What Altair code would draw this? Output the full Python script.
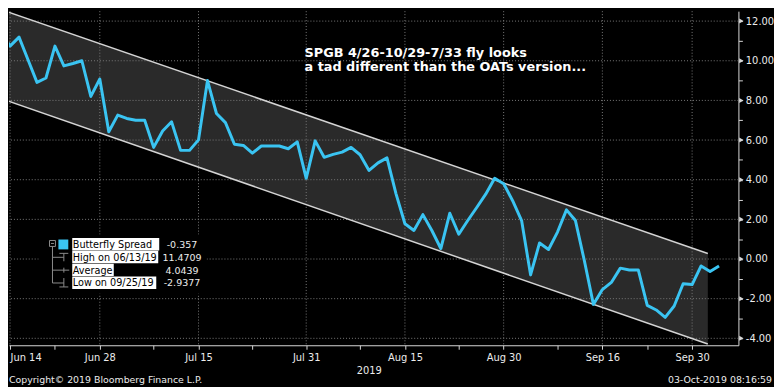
import altair as alt
import pandas as pd

# ---------------- data ----------------
dates = pd.bdate_range("2019-06-13", "2019-10-03")   # weekday trading days shown
spread = [11.47, 10.74, 11.19, 10.05, 8.91, 9.13, 10.74, 9.74, 9.86, 10.00,
          8.20, 9.08, 6.42, 7.26, 7.09, 7.00, 7.00, 5.63, 6.46, 6.92,
          5.48, 5.48, 6.01, 9.00, 7.34, 6.88, 5.79, 5.73, 5.34, 5.70,
          5.70, 5.70, 5.56, 5.91, 4.07, 5.96, 5.13, 5.28, 5.39, 5.63,
          5.26, 4.47, 4.85, 5.10, 3.30, 1.78, 1.44, 2.24, 1.44, 0.53,
          2.31, 1.25, 1.94, 2.60, 3.27, 4.07, 3.80, 2.94, 1.94, -0.80,
          0.81, 0.48, 1.36, 2.48, 1.94, -0.10, -2.29, -1.54, -1.18, -0.46,
          -0.55, -0.55, -2.34, -2.57, -2.94, -2.37, -1.25, -1.29, -0.35, -0.63,
          -0.357]

major_idx = [1, 11, 22, 34, 45, 56, 67, 77]
major_lab = ["Jun 14", "Jun 28", "Jul 15", "Jul 31", "Aug 15", "Aug 30", "Sep 16", "Sep 30"]
minor_idx = [6, 17, 28, 40, 51, 62, 72]
y_major = [-4, -2, 0, 2, 4, 6, 8, 10, 12]
y_all = list(range(-4, 13))

channel_x = [0, 78.75]
channel_upper = [12.58, 0.28]
channel_lower = [8.09, -4.29]

legend_labels = ["Butterfly Spread", "High on 06/13/19", "Average", "Low on 09/25/19"]
legend_values = ["-0.357", "11.4709", "4.0439", "-2.9377"]

title_lines = ["SPGB 4/26-10/29-7/33 fly looks", "a tad different than the OATs version..."]

# ---------------- styling ----------------
CYAN = "#3ac4f2"
GRID = "#7a7a7a"
AX = "#d8d8d8"
TXT = "#ececec"
FONT = "DejaVu Sans"

df = pd.DataFrame({"i": range(len(spread)), "date": dates.strftime("%Y-%m-%d"), "v": spread})
chan = pd.DataFrame({"i": channel_x, "v": channel_upper, "v2": channel_lower})
chan_long = pd.concat([
    pd.DataFrame({"i": channel_x, "v": channel_upper, "side": "upper"}),
    pd.DataFrame({"i": channel_x, "v": channel_lower, "side": "lower"}),
])

xs = alt.Scale(domain=[0.881, 82.159], nice=False, zero=False)
ys = alt.Scale(domain=[-4.35, 12.5], nice=False, zero=False)

xlabel_expr = (f"indexof({major_idx}, datum.value) >= 0 ? "
               f"{major_lab}[indexof({major_idx}, datum.value)] : ''")
ylabel_expr = ("datum.value % 2 == 0 ? (datum.value < 0 ? '-' : '') + "
               "format(abs(datum.value), '.2f') : ''")

xaxis = alt.Axis(values=major_idx + minor_idx, labelExpr=xlabel_expr, grid=False,
                 domainColor=AX, tickColor=AX, tickSize=4, labelColor=TXT,
                 labelFont=FONT, labelFontSize=10, labelPadding=3, labelFlush=10,
                 labelOverlap=False, title="2019", titleColor=TXT, titleFont=FONT,
                 titleFontSize=10, titleFontWeight="normal", titlePadding=4, titleX=364)
yaxis = alt.Axis(orient="right", values=y_all, labelExpr=ylabel_expr, grid=False,
                 domainColor=AX, tickColor=AX, tickSize=4, labelColor=TXT,
                 labelFont=FONT, labelFontSize=10, labelPadding=3, title=None,
                 labelOverlap=False)

xenc = alt.X("i:Q", scale=xs, axis=xaxis)
yenc = alt.Y("v:Q", scale=ys, axis=yaxis)

one = alt.Data(values=[{"k": 0}])


def txt(s, x, y, size=10, color=TXT, weight="normal", align="left", baseline="middle"):
    return alt.Chart(one).mark_text(text=s, font=FONT, fontSize=size, color=color,
                                    fontWeight=weight, align=align, baseline=baseline
                                    ).encode(x=alt.value(x), y=alt.value(y))


def seg(x1, y1, x2, y2, color="#8c8c8c", width=1):
    return alt.Chart(one).mark_rule(color=color, strokeWidth=width).encode(
        x=alt.value(x1), x2=alt.value(x2), y=alt.value(y1), y2=alt.value(y2))


def box(x1, y1, x2, y2, fill, stroke="transparent"):
    return alt.Chart(one).mark_rect(fill=fill, stroke=stroke, strokeWidth=1).encode(
        x=alt.value(x1), x2=alt.value(x2), y=alt.value(y1), y2=alt.value(y2))


layers = []
# channel fill
layers.append(alt.Chart(chan).mark_area(color="#2a2a2a", clip=True).encode(
    x=xenc, y=yenc, y2=alt.Y2("v2:Q")))
# grid
layers.append(alt.Chart(pd.DataFrame({"v": y_major})).mark_rule(
    color=GRID, strokeDash=[1, 2], strokeWidth=1).encode(y=yenc))
layers.append(alt.Chart(pd.DataFrame({"i": major_idx})).mark_rule(
    color=GRID, strokeDash=[1, 2], strokeWidth=1).encode(x=xenc))
# channel lines
layers.append(alt.Chart(chan_long).mark_line(color="#d4d4d4", strokeWidth=1.5, clip=True).encode(
    x=xenc, y=yenc, detail="side:N"))
# series
layers.append(alt.Chart(df).mark_line(color=CYAN, strokeWidth=3, clip=True,
                                      strokeJoin="round").encode(x=xenc, y=yenc))
# major tick arrows on right axis
layers.append(alt.Chart(pd.DataFrame({"v": y_major})).mark_point(
    shape="triangle-right", filled=True, size=26, color=AX, opacity=1).encode(
    x=alt.value(741), y=yenc))

# legend box
layers.append(box(30, 226, 200, 286, "#000000"))
rows_y = [236, 249, 262, 275]
box_right = [152, 151, 106, 149]
# tree lines / icons
layers += [
    box(41, 232, 47, 238, "transparent", "#8c8c8c"),
    seg(42.5, 235, 45.5, 235),
    seg(44, 238, 44, 275),
    seg(44, 249, 55.5, 249), seg(51, 245, 60, 245), seg(55.5, 245, 55.5, 253),
    seg(44, 262, 61, 262), seg(55.5, 259.5, 55.5, 264.5),
    seg(44, 275, 55.5, 275), seg(55.5, 270, 55.5, 279), seg(51, 279, 60, 279),
]
layers.append(box(50, 231, 60, 241, CYAN))
for lab, val, ry, br in zip(legend_labels, legend_values, rows_y, box_right):
    layers.append(box(64, ry - 6.5, br, ry + 6, "#ffffff"))
    layers.append(txt(lab, 64.5, ry + 0.5, size=9.8, color="#000000"))
    layers.append(txt(val, 175, ry + 0.5, size=9.6, color=TXT, align="center"))

# annotation
layers.append(txt(title_lines[0], 299, 46, size=13, color="#ffffff", weight="bold", baseline="alphabetic"))
layers.append(txt(title_lines[1], 299, 61, size=13, color="#ffffff", weight="bold", baseline="alphabetic"))
# footer
layers.append(txt("Copyright\u00a9 2019 Bloomberg Finance L.P.", 0, 376, size=9.5, baseline="alphabetic"))
layers.append(txt("03-Oct-2019 08:16:59", 772, 376, size=9.5, align="right", baseline="alphabetic"))

chart = alt.layer(*layers).properties(
    width=738, height=338, padding=0, background="#000000"
).configure_view(strokeWidth=0)

chart.save("out.html", embed_options={"renderer": "svg", "actions": False})
